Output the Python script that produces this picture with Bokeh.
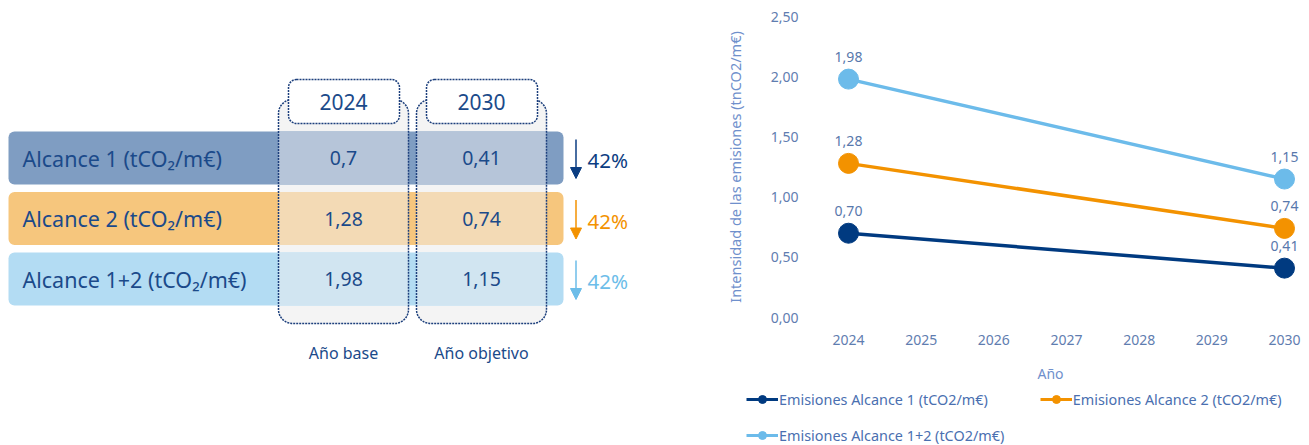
from bokeh.plotting import figure
from bokeh.layouts import row, column
from bokeh.models import (Range1d, FixedTicker, CustomJSTickFormatter, Legend,
                          LegendItem, Arrow, NormalHead)
from bokeh.core.properties import value
from bokeh.embed import file_html
from bokeh.resources import INLINE

# ---------------- data ----------------
scopes = ["Alcance 1 (tCO₂/m€)", "Alcance 2 (tCO₂/m€)", "Alcance 1+2 (tCO₂/m€)"]
table_years = ["2024", "2030"]
base_values = [0.7, 1.28, 1.98]
target_values = [0.41, 0.74, 1.15]
reductions = ["42%", "42%", "42%"]
column_notes = ["Año base", "Año objetivo"]

years = [2024, 2025, 2026, 2027, 2028, 2029, 2030]
series_names = ["Emisiones Alcance 1 (tCO2/m€)", "Emisiones Alcance 2 (tCO2/m€)",
                "Emisiones Alcance 1+2 (tCO2/m€)"]
series_x = [2024, 2030]
alcance1 = [0.70, 0.41]
alcance2 = [1.28, 0.74]
alcance12 = [1.98, 1.15]
y_ticks = [0, 0.5, 1.0, 1.5, 2.0, 2.5]

# ---------------- styles ----------------
FONT = "Noto Sans"
TXT = "#1b4a8a"
DOT = "#1c3f7c"
bar_colors = ["#7f9dc2", "#f6c67d", "#b3dcf3"]
overlay_colors = ["#b6c5d9", "#f3dab5", "#d1e5f1"]
accent = ["#0b3d82", "#f39200", "#6cbde9"]
line_colors = ["#003a80", "#f39200", "#6cbbea"]
LBL = "#5878ac"

def fmt(v, nd=None):
    s = (f"{v:.{nd}f}" if nd is not None else f"{v:g}")
    return s.replace(".", ",")

# ---------------- left graphic ----------------
L = figure(width=700, height=445, x_range=Range1d(0, 700), y_range=Range1d(445, 0),
           output_backend="svg", toolbar_location=None, min_border=0,
           x_axis_location=None, y_axis_location=None, outline_line_color=None)
L.frame_align = False
L.xgrid.visible = False
L.ygrid.visible = False

col_left = [278, 416]
col_w = 130
col_cx = [c + col_w / 2 for c in col_left]
row_top = [131 + i * 60.5 for i in range(len(scopes))]
row_h = 53
row_cy = [t + row_h / 2 for t in row_top]

L.quad(left=col_left, right=[c + col_w for c in col_left], top=[99, 99], bottom=[323, 323],
       fill_color="#f4f4f4", line_color=None, border_radius=14)
L.quad(left=[8] * 3, right=[563] * 3, top=row_top, bottom=[t + row_h for t in row_top],
       fill_color=bar_colors, line_color=None, border_radius=6)
for i in range(len(scopes)):
    L.quad(left=col_left, right=[c + col_w for c in col_left],
           top=[row_top[i]] * 2, bottom=[row_top[i] + row_h] * 2,
           fill_color=overlay_colors[i], line_color=None)
L.quad(left=col_left, right=[c + col_w for c in col_left], top=[99, 99], bottom=[323, 323],
       fill_color=None, line_color=DOT, line_dash="2 1", line_width=1.5, border_radius=14)
L.quad(left=[c + 10 for c in col_left], right=[c + col_w - 9 for c in col_left],
       top=[79, 79], bottom=[123, 123], fill_color="white", line_color=DOT,
       line_dash="2 1", line_width=1.5, border_radius=8)

L.text(x=col_cx, y=[101, 101], text=table_years, text_font=value(FONT),
       text_font_size="21px", text_color=TXT, text_align="center", text_baseline="middle")
L.text(x=[22] * 3, y=row_cy, text=scopes, text_font=value(FONT), text_font_size="21.5px",
       text_color=TXT, text_align="left", text_baseline="middle")
L.text(x=[col_cx[0]] * 3, y=row_cy, text=[fmt(v) for v in base_values], text_font=value(FONT),
       text_font_size="19.5px", text_color=TXT, text_align="center", text_baseline="middle")
L.text(x=[col_cx[1]] * 3, y=row_cy, text=[fmt(v) for v in target_values], text_font=value(FONT),
       text_font_size="19.5px", text_color=TXT, text_align="center", text_baseline="middle")
L.text(x=[587] * 3, y=[c + 2 for c in row_cy], text=reductions, text_font=value(FONT),
       text_font_size="20.5px", text_color=accent, text_align="left", text_baseline="middle")
L.text(x=col_cx, y=[352, 352], text=column_notes, text_font=value(FONT),
       text_font_size="16px", text_color=TXT, text_align="center", text_baseline="middle")

for i in range(len(scopes)):
    c = accent[i]
    L.add_layout(Arrow(end=NormalHead(size=11, fill_color=c, line_color=c, line_width=1),
                       x_start=575.5, y_start=row_top[i] + 8, x_end=575.5,
                       y_end=row_top[i] + row_h - 6, line_color=c, line_width=1.5))

# ---------------- right chart ----------------
px_per_year = (1284 - 848) / 6
R = figure(width=609, height=389,
           x_range=Range1d(2024 - 48 / px_per_year, 2030 + 16 / px_per_year),
           y_range=Range1d(0, 2.5), output_backend="svg", toolbar_location=None,
           min_border_left=100, min_border_right=9, min_border_top=16,
           min_border_bottom=72, outline_line_color=None)
R.frame_align = False
R.xgrid.visible = False
R.ygrid.visible = False

for ax in (R.xaxis[0], R.yaxis[0]):
    ax.axis_line_color = None
    ax.major_tick_line_color = None
    ax.minor_tick_line_color = None
    ax.major_tick_out = 0
    ax.major_tick_in = 0
    ax.major_label_text_font = FONT
    ax.major_label_text_font_size = "14px"
    ax.major_label_text_color = "#5f7db0"
    ax.axis_label_text_font = FONT
    ax.axis_label_text_font_style = "normal"
    ax.axis_label_text_color = "#6f90cc"

R.xaxis.ticker = FixedTicker(ticks=years)
R.xaxis.major_label_standoff = 17
R.xaxis.axis_label = "Año"
R.xaxis.axis_label_text_font_size = "14px"
R.xaxis.axis_label_standoff = 16

R.yaxis.ticker = FixedTicker(ticks=y_ticks)
R.yaxis.formatter = CustomJSTickFormatter(code="return tick.toFixed(2).replace('.', ',');")
R.yaxis.major_label_standoff = 2
R.yaxis.axis_label = "Intensidad de las emisiones (tnCO2/m€)"
R.yaxis.axis_label_text_font_size = "14.5px"
R.yaxis.axis_label_standoff = 23

for vals, c in zip([alcance1, alcance2, alcance12], line_colors):
    R.line(series_x, vals, line_color=c, line_width=3.5)
    R.scatter(series_x, vals, size=20, fill_color=c, line_color=c)
    R.text(series_x, vals, text=[fmt(v, 2) for v in vals], y_offset=-22,
           text_font=value(FONT), text_font_size="14px", text_color=LBL,
           text_align="center", text_baseline="middle")

# ---------------- legend strip ----------------
# proxy renderers use the series data, which lies outside this strip's ranges
G = figure(width=609, height=56, x_range=Range1d(0, 1), y_range=Range1d(0, 1),
           output_backend="svg", toolbar_location=None, min_border=0,
           x_axis_location=None, y_axis_location=None, outline_line_color=None)
G.frame_align = False
G.xgrid.visible = False
G.ygrid.visible = False
items = []
for name, vals, c in zip(series_names, [alcance1, alcance2, alcance12], line_colors):
    lr = G.line(x=series_x, y=vals, line_color=c, line_width=3)
    sr = G.scatter(x=series_x, y=vals, fill_color=c, line_color=c)
    items.append(LegendItem(label=name, renderers=[lr, sr]))

def mk_legend(its, loc, spacing=0):
    return Legend(items=its, location=loc, orientation="horizontal", spacing=spacing,
                  glyph_width=32, glyph_height=20, label_standoff=1, padding=0, margin=0,
                  border_line_color=None, background_fill_alpha=0,
                  label_text_font=FONT, label_text_font_size="14.4px",
                  label_text_color="#4a6fb0")

G.add_layout(mk_legend(items[:2], (46, 36), spacing=52), "center")
G.add_layout(mk_legend(items[2:], (46, 0)), "center")

layout = row(L, column(R, G))
open("out.html", "w").write(file_html(layout, INLINE))
